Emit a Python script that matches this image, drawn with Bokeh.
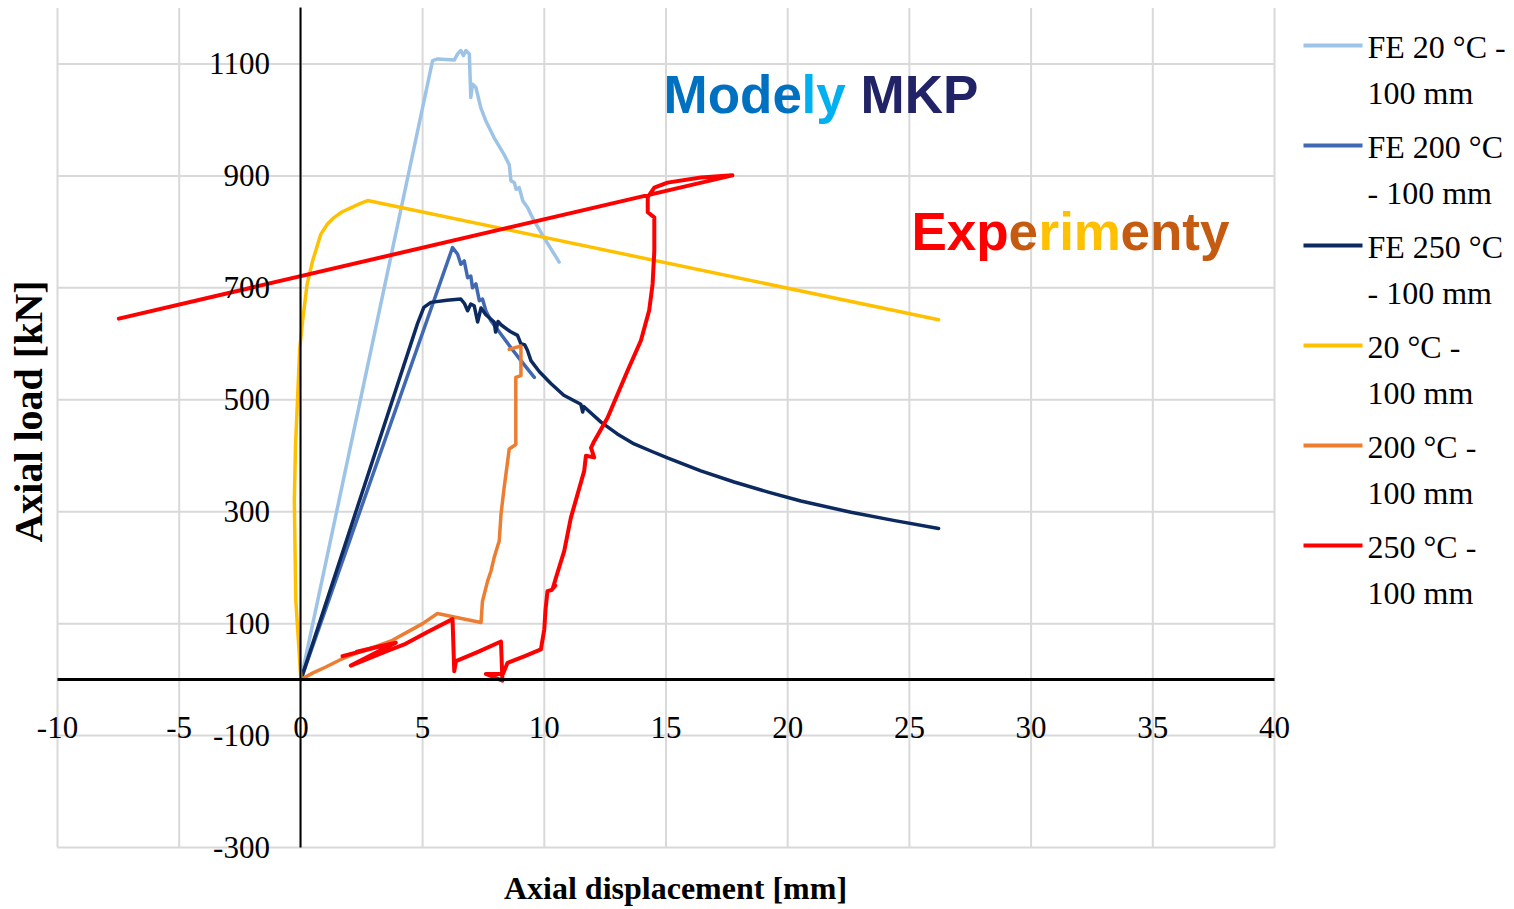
import math
from bokeh.plotting import figure
from bokeh.models import Range1d, FixedTicker, CustomJSTickFormatter
from bokeh.layouts import row
from bokeh.core.properties import value
from bokeh.embed import file_html
from bokeh.resources import INLINE

# ---- data: axial displacement [mm] vs axial load [kN] ----
fe20_x = [0, 5.41, 5.62, 6.30, 6.44, 6.57, 6.68, 6.78, 6.92, 6.98, 7.05, 7.19, 7.39, 7.60, 7.94,
          8.35, 8.56, 8.63, 8.77, 8.84, 8.97, 9.12, 9.32, 9.45, 9.59, 10.0, 10.61]
fe20_y = [0, 1106, 1109, 1107, 1118, 1124, 1115, 1124, 1118, 1040, 1064, 1058, 1022, 998, 968,
          938, 920, 891, 888, 876, 879, 855, 843, 831, 819, 789, 746]

fe200_x = [0, 6.23, 6.44, 6.57, 6.71, 6.85, 6.98, 7.05, 7.19, 7.33, 7.46, 7.60, 7.81, 8.22,
           8.63, 9.04, 9.59]
fe200_y = [0, 772, 760, 742, 748, 718, 721, 700, 707, 677, 680, 659, 641, 617,
           593, 570, 540]

fe250_x = [0, 4.79, 5.05, 5.34, 6.00, 6.57, 6.72, 6.85, 6.98, 7.12, 7.26, 7.40, 7.60, 7.94,
           8.00, 8.10, 8.22, 8.60, 8.90, 9.04, 9.20, 9.31, 9.45, 9.80, 10.27, 10.80, 11.50,
           11.58, 11.62, 12.33, 13.00, 13.69, 14.40, 15.06, 16.43, 17.80, 19.20, 20.54,
           22.60, 24.40, 26.20]
fe250_y = [0, 636, 665, 674, 678, 680, 672, 659, 671, 668, 639, 664, 652, 639,
           621, 640, 634, 622, 615, 600, 598, 588, 570, 550, 529, 508, 492,
           478, 488, 460, 439, 421, 408, 396, 373, 353, 335, 319,
           299, 284, 270]

exp20_x = [0, -0.21, -0.27, -0.22, -0.14, -0.05, 0.07, 0.25, 0.48, 0.82, 1.09, 1.37, 1.70,
           2.05, 2.40, 2.74, 26.20]
exp20_y = [0, 142, 320, 420, 499, 590, 641, 705, 748, 796, 814, 826, 836,
           843, 850, 856, 643]

exp200_x = [0, 0.5, 1.0, 1.64, 2.2, 2.8, 3.7, 4.5, 5.0, 5.61, 6.5, 7.40, 7.46, 7.67, 7.81,
            7.94, 8.15, 8.22, 8.35, 8.56, 8.83, 8.83, 9.04, 9.04, 8.56]
exp200_y = [0, 12, 22, 36, 46, 55, 69, 88, 100, 118, 110, 102, 140, 176, 194,
            218, 248, 295, 343, 412, 420, 540, 543, 596, 590]

exp250_x = [1.71, 3.30, 2.30, 3.90, 2.05, 3.60, 4.30, 5.20, 6.23, 6.30, 6.37, 7.30, 8.22,
            8.28, 7.60, 8.30, 8.49, 9.20, 9.86, 10.00, 10.05, 10.13, 10.30, 10.45, 10.35,
            10.50, 10.82, 11.09, 11.64, 11.71, 12.05, 11.92, 12.05, 12.60, 13.42, 13.97,
            14.31, 14.45, 14.52, 14.52, 14.25, 14.25, 14.52, 15.06, 16.43, 17.73, -7.48]
exp250_y = [42, 60, 50, 66, 25, 52, 64, 85, 108, 15, 33, 50, 68,
            -2, 10, 10, 30, 42, 54, 90, 125, 158, 160, 168, 163,
            185, 230, 289, 373, 400, 397, 414, 426, 468, 552, 606,
            660, 707, 766, 826, 835, 862, 879, 888, 897, 901, 645]

series_x = [fe20_x, fe200_x, fe250_x, exp20_x, exp200_x, exp250_x]
series_y = [fe20_y, fe200_y, fe250_y, exp20_y, exp200_y, exp250_y]
series_colors = ["#9DC3E6", "#4169B2", "#0C2A5F", "#FFC000", "#ED7D31", "#FF0000"]
series_widths = [3.5, 3.5, 3.5, 3.5, 3.5, 4]
series_labels = [("FE 20 °C -", "100 mm"), ("FE 200 °C", "- 100 mm"), ("FE 250 °C", "- 100 mm"),
                 ("20 °C -", "100 mm"), ("200 °C -", "100 mm"), ("250 °C -", "100 mm")]

x_ticks = [-10, -5, 0, 5, 10, 15, 20, 25, 30, 35, 40]
y_ticks = [-300, -100, 100, 300, 500, 700, 900, 1100]
x_box = (-10, 40)
y_box = (-300, 1200)

SERIF = "Liberation Serif"
SANS = "Liberation Sans"

# ---- main chart: the frame fills the whole canvas so edge tick labels stay visible ----
W, H = 1292, 909
X_LO, X_HI = -12.342, 40.740
Y_LO, Y_HI = -410.8, 1213.4


def at_px(px, py):
    """Canvas pixel position -> data position (used for text placement)."""
    return X_LO + px * (X_HI - X_LO) / W, Y_HI - py * (Y_HI - Y_LO) / H


p = figure(width=W, height=H, x_range=Range1d(X_LO, X_HI), y_range=Range1d(Y_LO, Y_HI),
           output_backend="svg", toolbar_location=None, min_border=0)
p.outline_line_color = None
p.background_fill_color = "white"
p.border_fill_color = "white"
p.grid.visible = False

# grid confined to the chart box
p.segment(x0=x_ticks, y0=[y_box[0]] * len(x_ticks), x1=x_ticks, y1=[y_box[1]] * len(x_ticks),
          line_color="#D9D9D9", line_width=2)
p.segment(x0=[x_box[0]] * len(y_ticks), y0=y_ticks, x1=[x_box[1]] * len(y_ticks), y1=y_ticks,
          line_color="#D9D9D9", line_width=2)

p.xaxis.ticker = FixedTicker(ticks=x_ticks)
p.yaxis.ticker = FixedTicker(ticks=y_ticks)
p.xaxis.formatter = CustomJSTickFormatter(code="return String(tick);")
p.yaxis.formatter = CustomJSTickFormatter(code="return String(tick);")
p.xaxis.fixed_location = 0
p.yaxis.fixed_location = 0
p.xaxis.bounds = x_box
p.yaxis.bounds = y_box
p.xaxis.axis_line_width = 3
p.yaxis.axis_line_width = 2
for ax in (p.xaxis, p.yaxis):
    ax.axis_line_color = "black"
    ax.major_tick_line_color = None
    ax.minor_tick_line_color = None
    ax.major_label_text_font = SERIF
    ax.major_label_text_font_size = "31px"
    ax.major_label_text_color = "black"
p.xaxis.major_label_standoff = 31
p.yaxis.major_label_standoff = 25

for xs, ys, c, w in zip(series_x, series_y, series_colors, series_widths):
    p.line(xs, ys, line_color=c, line_width=w, line_join="round", line_cap="round")

# axis titles
tx, ty = at_px(675, 887)
p.text(x=[tx], y=[ty], text=["Axial displacement [mm]"], text_font=value(SERIF),
       text_font_size="32px", text_font_style="bold", text_color="black",
       text_align="center", text_baseline="middle")
tx, ty = at_px(28, 411)
p.text(x=[tx], y=[ty], text=["Axial load [kN]"], angle=math.pi / 2, text_font=value(SERIF),
       text_font_size="40px", text_font_style="bold", text_color="black",
       text_align="center", text_baseline="middle")

# coloured headline annotations, each word split into coloured pieces
model_parts = ["Mode", "ly", "MKP"]
model_colors = ["#0070C0", "#00B0F0", "#222266"]
model_offsets = [0, 138, 197]
tx, ty = at_px(663, 94)
p.text(x=[tx] * 3, y=[ty] * 3, text=model_parts, x_offset=model_offsets,
       text_color=model_colors, text_font=value(SANS), text_font_size="53px",
       text_font_style="bold", text_baseline="middle", text_align="left")

exp_parts = ["Exp", "e", "rim", "enty"]
exp_colors = ["#FF0000", "#C55A11", "#FFC000", "#C55A11"]
exp_offsets = [0, 97, 127, 209]
tx, ty = at_px(911, 231)
p.text(x=[tx] * 4, y=[ty] * 4, text=exp_parts, x_offset=exp_offsets,
       text_color=exp_colors, text_font=value(SANS), text_font_size="53px",
       text_font_style="bold", text_baseline="middle", text_align="left")

# ---- legend panel ----
LW = 1514 - W
lg = figure(width=LW, height=H, x_range=Range1d(0, LW), y_range=Range1d(H, 0),
            output_backend="svg", toolbar_location=None, min_border=0)
lg.axis.visible = False
lg.grid.visible = False
lg.outline_line_color = None
lg.background_fill_color = "white"
lg.border_fill_color = "white"
for i, (c, (l1, l2)) in enumerate(zip(series_colors, series_labels)):
    yy = 45 + 100 * i
    lg.line([11, 70], [yy, yy], line_color=c, line_width=4)
    lg.text(x=[75, 75], y=[yy + 1, yy + 47], text=[l1, l2], text_font=value(SERIF),
            text_font_size="32px", text_color="black", text_baseline="middle",
            text_align="left")

layout = row(p, lg)
open("out.html", "w").write(file_html(layout, INLINE))
